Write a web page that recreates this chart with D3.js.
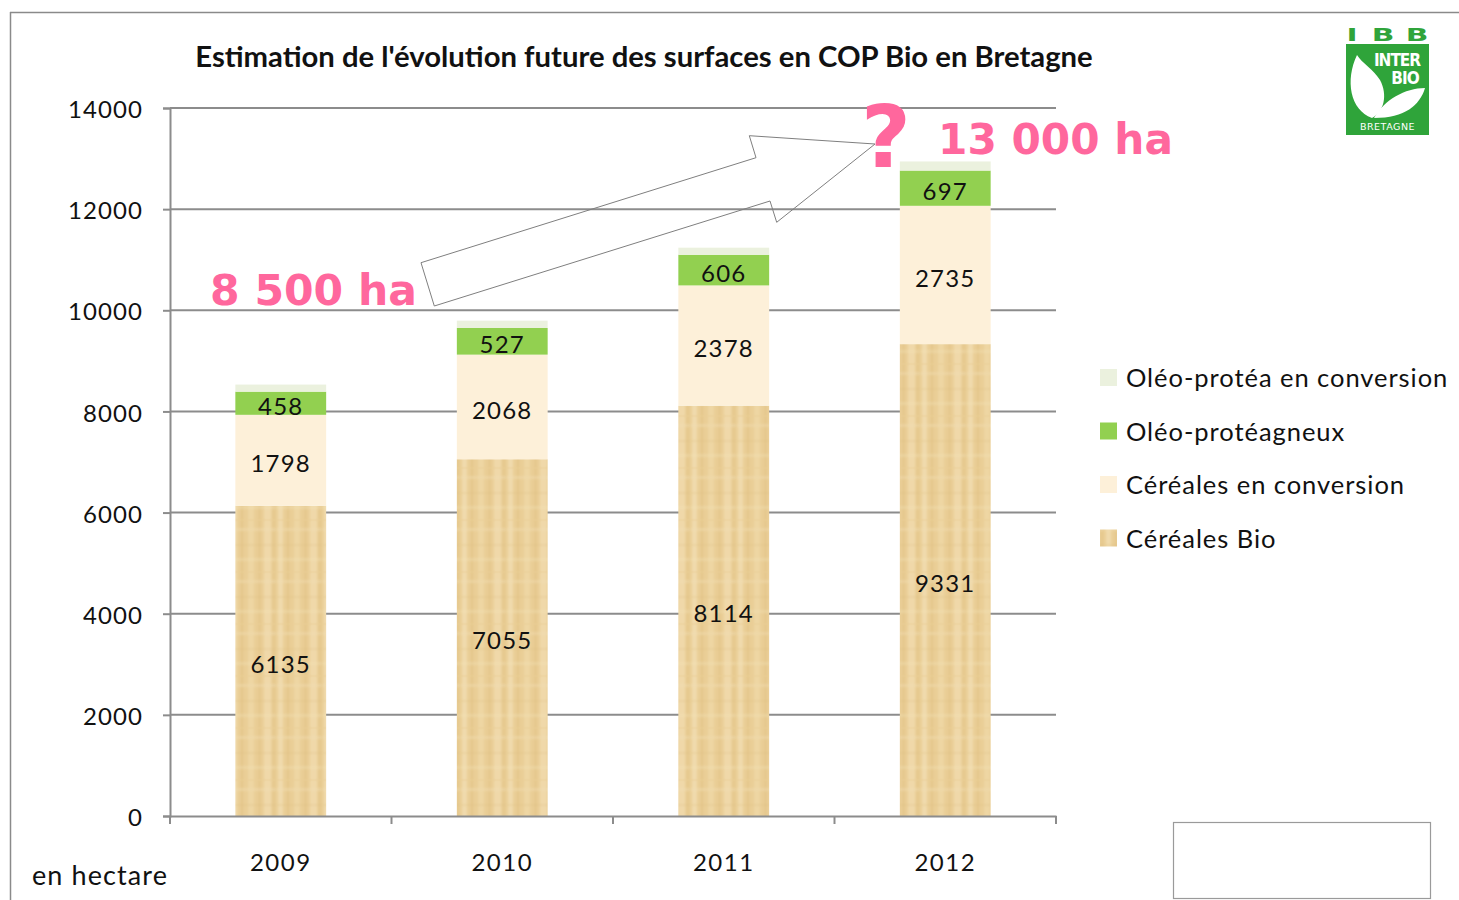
<!DOCTYPE html>
<html><head><meta charset="utf-8">
<script src="https://cdn.jsdelivr.net/npm/d3@7"></script>
<style>
html,body{margin:0;padding:0;background:#fff;}
svg{display:block;}
</style></head>
<body>
<svg id="chart" width="1459" height="900"></svg>
<script>
// ---- Data ----
const years = ["2009", "2010", "2011", "2012"];
const cerealesBio = [6135, 7055, 8114, 9331];
const cerealesConversion = [1798, 2068, 2378, 2735];
const oleoProteagineux = [458, 527, 606, 697];
const oleoConversion = [140, 145, 140, 180];   // unlabelled thin top segment (estimated)
const seriesNames = ["Céréales Bio", "Céréales en conversion", "Oléo-protéagneux", "Oléo-protéa en conversion"];
const showLabels = [true, true, true, false];
const yTicks = [0, 2000, 4000, 6000, 8000, 10000, 12000, 14000];
const title = "Estimation de l'évolution future des surfaces en COP Bio en Bretagne";
const unitLabel = "en hectare";
const annotStart = "8 500 ha";
const annotEnd = "13 000 ha";

// ---- Setup ----
const svg = d3.select("#chart");
const W = 1459, H = 900;
const plot = {left: 170, right: 1056, top: 108, bottom: 816};
const fills = ["url(#texBio)", "#FDF0D9", "#92D050", "#EBF1DE"];
const pink = "#FF679D";
const grid = "#8C8C8C";

const defs = svg.append("defs");
const blur = defs.append("filter").attr("id", "soft").attr("x", 0).attr("y", 0).attr("width", 1).attr("height", 1);
blur.append("feGaussianBlur").attr("stdDeviation", 1.2);
const pat = defs.append("pattern").attr("id", "texBio").attr("patternUnits", "userSpaceOnUse")
  .attr("width", 46).attr("height", 52);
pat.append("rect").attr("width", 46).attr("height", 52).attr("fill", "#EACE96");
const pg = pat.append("g").attr("filter", "url(#soft)");
[[2,5,"#F4E2BA",0.6],[11,2,"#DCBD7C",0.45],[18,6,"#F2DDB0",0.5],[28,3,"#E0C284",0.45],[34,7,"#F5E4BE",0.5],[43,2,"#DBBB7C",0.4]]
  .forEach(([x,w,c,o]) => pg.append("rect").attr("x", x).attr("y", 0).attr("width", w).attr("height", 52).attr("fill", c).attr("opacity", o));
[[8,3,"#F3DFB4",0.4],[24,2,"#DFC084",0.3],[38,3,"#F4E1B7",0.35]]
  .forEach(([y,h,c,o]) => pg.append("rect").attr("x", 0).attr("y", y).attr("width", 46).attr("height", h).attr("fill", c).attr("opacity", o));

// Outer frame lines
svg.append("line").attr("x1", 10).attr("x2", W).attr("y1", 12.5).attr("y2", 12.5).attr("stroke", "#8A8A8A").attr("stroke-width", 1.5);
svg.append("line").attr("x1", 10.5).attr("x2", 10.5).attr("y1", 12).attr("y2", H).attr("stroke", "#8A8A8A").attr("stroke-width", 1.5);

// Scales
const x = d3.scaleBand().domain(years).range([plot.left, plot.right]).paddingInner(0.59).paddingOuter(0.295);
const y = d3.scaleLinear().domain([0, 14000]).range([plot.bottom, plot.top]);

// Gridlines
svg.append("g").selectAll("line").data(yTicks.filter(d => d > 0)).join("line")
  .attr("x1", plot.left).attr("x2", plot.right)
  .attr("y1", d => y(d)).attr("y2", d => y(d))
  .attr("stroke", grid).attr("stroke-width", 2);

// Stack
const table = years.map((yr, i) => ({year: yr, s0: cerealesBio[i], s1: cerealesConversion[i], s2: oleoProteagineux[i], s3: oleoConversion[i]}));
const stack = d3.stack().keys(["s0", "s1", "s2", "s3"])(table);

const gBars = svg.append("g");
stack.forEach((layer, li) => {
  gBars.append("g").selectAll("rect").data(layer).join("rect")
    .attr("x", d => x(d.data.year))
    .attr("width", x.bandwidth())
    .attr("y", d => y(d[1]))
    .attr("height", d => y(d[0]) - y(d[1]))
    .attr("fill", fills[li]);
});

// Labels
const fontMain = "Lato, 'Open Sans', sans-serif";
stack.forEach((layer, li) => {
  if (!showLabels[li]) return;
  svg.append("g").selectAll("text").data(layer).join("text")
    .attr("x", d => x(d.data.year) + x.bandwidth() / 2)
    .attr("y", d => (y(d[0]) + y(d[1])) / 2 + 3)
    .attr("dy", "0.36em")
    .attr("text-anchor", "middle")
    .attr("font-family", fontMain).attr("font-size", 24).attr("letter-spacing", 1.2).attr("fill", "#111")
    .text(d => d.data[layer.key]);
});

// Y axis
const yAxis = d3.axisLeft(y).tickValues(yTicks).tickSize(7).tickPadding(20).tickFormat(d3.format("d"));
const gy = svg.append("g").attr("transform", `translate(${plot.left},0)`).call(yAxis);
gy.select(".domain").attr("stroke", grid).attr("stroke-width", 2);
gy.selectAll(".tick line").attr("stroke", grid).attr("stroke-width", 2);
gy.selectAll(".tick text").attr("font-family", fontMain).attr("font-size", 24).attr("letter-spacing", 1.1).attr("fill", "#111").attr("dy", "0.4em");

// X axis
const xAxis = d3.axisBottom(x).tickSize(0).tickPadding(38);
const gx = svg.append("g").attr("transform", `translate(0,${plot.bottom})`).call(xAxis);
gx.select(".domain").attr("stroke", grid).attr("stroke-width", 2);
gx.selectAll(".tick text").attr("font-family", fontMain).attr("font-size", 24).attr("letter-spacing", 1.5).attr("fill", "#111");
// category boundary ticks
const bounds = years.map(d => x(d) - x.step() * x.paddingInner() / 2).concat([plot.right]);
bounds[0] = plot.left;
svg.append("g").selectAll("line").data(bounds).join("line")
  .attr("x1", d => d).attr("x2", d => d).attr("y1", plot.bottom).attr("y2", plot.bottom + 8)
  .attr("stroke", grid).attr("stroke-width", 2);

// Unit label
svg.append("text").attr("x", 32).attr("y", 885).attr("font-family", fontMain).attr("font-size", 27).attr("letter-spacing", 1.1).attr("fill", "#111").text(unitLabel);

// Title
function fit(sel, w) {
  const fs = +sel.attr("font-size");
  const len = sel.node().getComputedTextLength();
  sel.attr("font-size", fs * w / len);
}
const t = svg.append("text").attr("x", 644).attr("y", 67).attr("text-anchor", "middle")
  .attr("font-family", fontMain).attr("font-weight", "bold").attr("font-size", 26).attr("fill", "#111").text(title);
fit(t, 898);

// Legend
const legendOrder = [3, 2, 1, 0];
const lg = svg.append("g");
legendOrder.forEach((si, k) => {
  const cy = 378 + k * 53.5;
  lg.append("rect").attr("x", 1100).attr("y", cy - 9).attr("width", 17).attr("height", 17).attr("fill", fills[si]);
  lg.append("text").attr("x", 1126).attr("y", cy).attr("dy", "0.36em")
    .attr("font-family", fontMain).attr("font-size", 25.5).attr("letter-spacing", 0.95).attr("fill", "#111").text(seriesNames[si]);
});

// Arrow annotation (outline block arrow)
const arrowPts = [[421, 262.7], [434.3, 306], [770, 201], [776.7, 222.3], [875, 144], [749.3, 135.7], [756, 157.7]];
svg.append("polygon").attr("points", arrowPts.map(p => p.join(",")).join(" "))
  .attr("fill", "none").attr("stroke", "#7F7F7F").attr("stroke-width", 1);

const fontAnn = "'DejaVu Sans', Verdana, sans-serif";
const a1 = svg.append("text").attr("x", 210).attr("y", 305).attr("font-family", fontAnn).attr("font-weight", "bold")
  .attr("font-size", 43).attr("fill", pink).text(annotStart);
fit(a1, 207);
const a2 = svg.append("text").attr("x", 938).attr("y", 154).attr("font-family", fontAnn).attr("font-weight", "bold")
  .attr("font-size", 43).attr("fill", pink).text(annotEnd);
fit(a2, 235);
svg.append("text").attr("x", 886).attr("y", 167).attr("text-anchor", "middle").attr("font-family", fontAnn).attr("font-weight", "bold")
  .attr("font-size", 86).attr("fill", pink).text("?");

// Empty box bottom right
svg.append("rect").attr("x", 1173.5).attr("y", 822.5).attr("width", 257).attr("height", 76).attr("fill", "none").attr("stroke", "#9A9A9A").attr("stroke-width", 1.2);

// Logo
const logo = svg.append("g");
const lgGreen = "#2FA43A";
[["I", 1352], ["B", 1383], ["B", 1417]].forEach(([ch, cx]) => {
  logo.append("text").attr("text-anchor", "middle")
    .attr("transform", `translate(${cx},40.5) scale(1.7,1.0)`)
    .attr("font-family", "'DejaVu Sans', sans-serif").attr("font-weight", "bold").attr("font-size", 17.5)
    .attr("fill", lgGreen).text(ch);
});
logo.append("rect").attr("x", 1346).attr("y", 44).attr("width", 83).attr("height", 91).attr("fill", lgGreen);
// big leaf
logo.append("path").attr("d", "M1357,55 C1345,80 1350,110 1372,118 C1384,112 1388,95 1380,80 C1374,70 1362,63 1357,55 Z").attr("fill", "#fff");
// small leaf
logo.append("path").attr("d", "M1374,118 C1384,100 1405,88 1425,88 C1420,105 1405,118 1374,118 Z").attr("fill", "#fff");
logo.append("text").attr("x", 1397).attr("y", 66).attr("text-anchor", "middle").attr("font-family", "'DejaVu Sans Condensed', 'DejaVu Sans', sans-serif")
  .attr("font-weight", "bold").attr("font-size", 17).attr("fill", "#fff").attr("letter-spacing", -1).text("INTER");
logo.append("text").attr("x", 1405).attr("y", 84).attr("text-anchor", "middle").attr("font-family", "'DejaVu Sans Condensed', 'DejaVu Sans', sans-serif")
  .attr("font-weight", "bold").attr("font-size", 17).attr("fill", "#fff").attr("letter-spacing", -1).text("BIO");
logo.append("text").attr("x", 1387.5).attr("y", 130).attr("text-anchor", "middle").attr("font-family", "'DejaVu Sans', sans-serif")
  .attr("font-size", 9.5).attr("fill", "#fff").attr("letter-spacing", 0.5).text("BRETAGNE");
</script>
</body></html>
